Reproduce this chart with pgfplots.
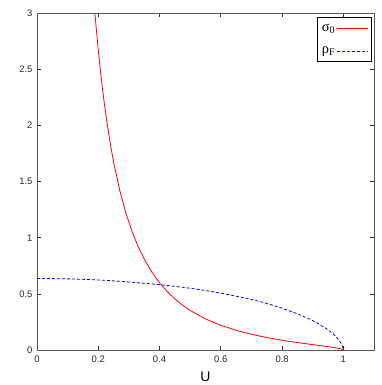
\documentclass[border=0pt]{standalone}
\usepackage{pgfplots}
\pgfplotsset{compat=1.18}
\usepackage{fontspec}
\setmainfont{Liberation Sans}
\newfontfamily\serif{Liberation Serif}
\begin{document}
\begin{tikzpicture}
\begin{axis}[
  name=ax,
  scale only axis, width=337bp, height=336.7bp,
  xmin=0, xmax=1.1, ymin=0, ymax=3,
  xtick={0,0.2,0.4,0.6,0.8,1}, ytick={0,0.5,1,1.5,2,2.5,3},
  xticklabels={0,0.2,0.4,0.6,0.8,1}, yticklabels={0,0.5,1,1.5,2,2.5,3},
  tick align=inside, major tick length=4bp,
  axis line style={draw=black!65, line width=0.9pt},
  tick style={black!80, line width=0.7pt},
  ticklabel style={font=\fontsize{9.5}{11}\selectfont, text=black!85},
  xticklabel style={yshift=-2bp},
  yticklabel style={xshift=-1bp},
  xlabel={U},
  xlabel style={font=\fontsize{14}{16}\selectfont, at={(axis description cs:0.5,0)}, anchor=center, yshift=-27bp},
  legend plot pos=right,
  legend image code/.code={\draw (0bp,0bp) -- (31bp,0bp);},
  legend style={at={(rel axis cs:0.993,0.988)}, anchor=north east,
    font=\serif\fontsize{14.5}{16}\selectfont,
    row sep=11bp, inner xsep=3bp, inner ysep=5bp,
    nodes={inner sep=1.5bp, text=black}},
  legend cell align=left,
]
\addplot[red, line width=0.8pt] coordinates {
(0.189,3.00) (0.19,2.969) (0.2,2.671) (0.21,2.414) (0.22,2.191) (0.23,1.998)
(0.24,1.827) (0.25,1.675) (0.27,1.423) (0.29,1.221) (0.31,1.057)
(0.33,0.922) (0.35,0.810) (0.375,0.694) (0.40,0.599) (0.425,0.521)
(0.45,0.455) (0.475,0.400) (0.50,0.353) (0.55,0.277) (0.60,0.220)
(0.65,0.1755) (0.70,0.140) (0.75,0.111) (0.80,0.087) (0.85,0.0663)
(0.90,0.0478) (0.95,0.0297) (0.98,0.0171) (0.995,0.0079) (1.00,0.0)
};
\addlegendentry{σ\textsubscript{0}}
\addplot[blue, line width=0.8pt, dash pattern=on 3bp off 2bp, smooth, tension=0.5] coordinates {
(0,0.637) (0.1,0.634) (0.2,0.624) (0.3,0.606) (0.4,0.582) (0.5,0.550)
(0.6,0.507) (0.7,0.450) (0.75,0.415) (0.8,0.372) (0.85,0.322) (0.9,0.262)
(0.93,0.215) (0.95,0.180) (0.97,0.135) (0.98,0.105) (0.99,0.072) (0.995,0.050) (1.0,0.0)
};
\addlegendentry{ρ\textsubscript{F}}
\end{axis}
\pgfresetboundingbox
\useasboundingbox ([shift={(-37bp,-35bp)}]ax.south west) rectangle ([shift={(8bp,13.3bp)}]ax.north east);
\end{tikzpicture}
\end{document}
